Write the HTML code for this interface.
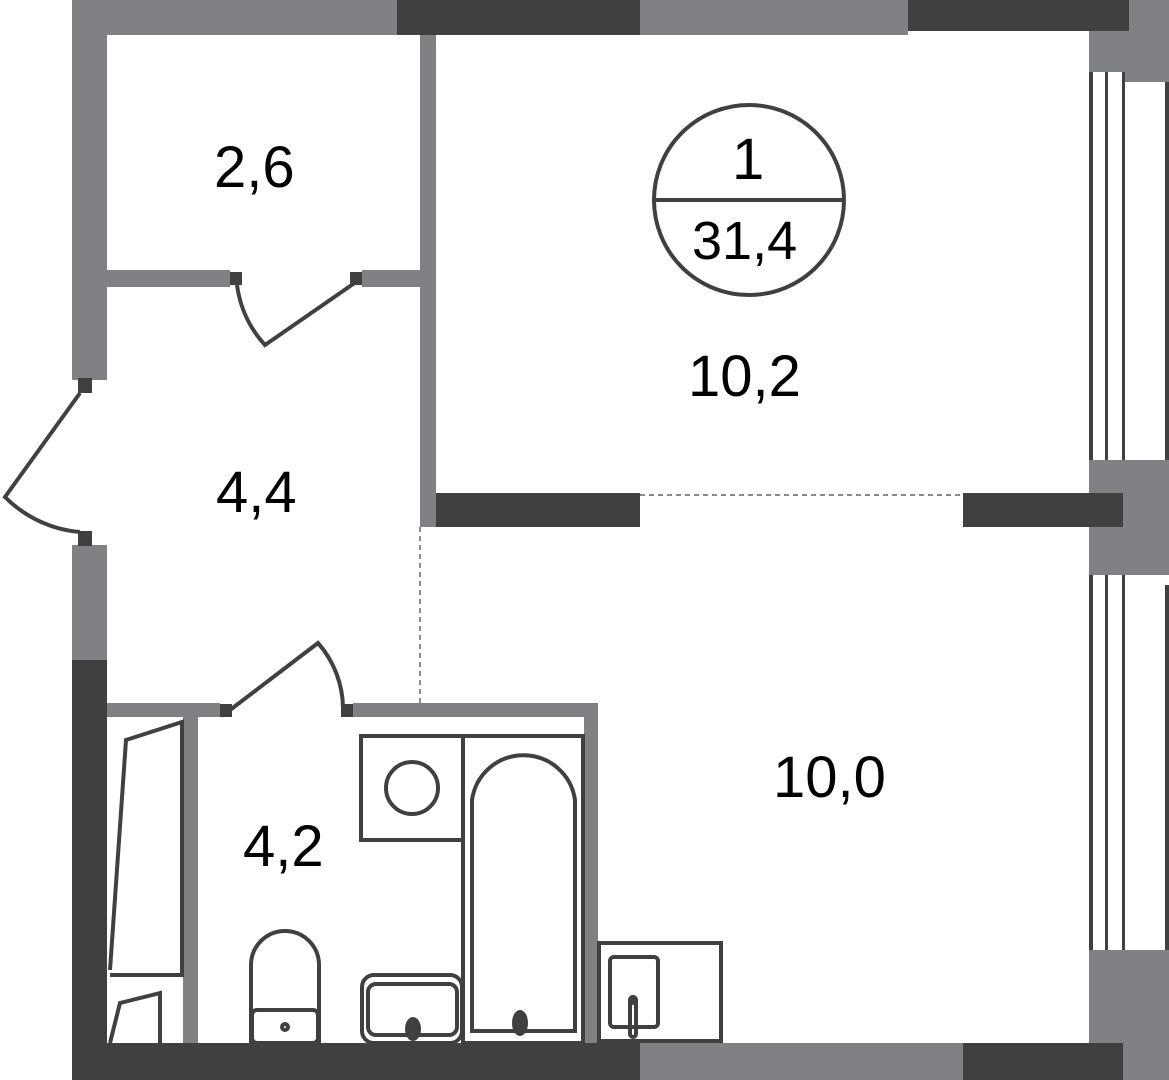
<!DOCTYPE html>
<html><head><style>body{margin:0;background:#fff}svg{display:block}text{font-family:"Liberation Sans",sans-serif;fill:#000}</style></head><body>
<svg width="1169" height="1080" viewBox="0 0 1169 1080" xmlns="http://www.w3.org/2000/svg">
<g fill="#808184">
<rect x="72" y="0" width="325" height="35"/><rect x="640" y="0" width="268" height="35"/>
<rect x="1089" y="31" width="80" height="41"/><rect x="1123" y="0" width="46" height="82"/>
<rect x="72" y="0" width="35" height="380"/><rect x="72" y="545" width="35" height="118"/>
<rect x="1089" y="460" width="80" height="115"/><rect x="1089" y="950" width="80" height="130"/>
<rect x="640" y="1043" width="323" height="37"/><rect x="1123" y="1043" width="46" height="37"/>
<rect x="420" y="35" width="16" height="492"/>
<rect x="107" y="270" width="123" height="17"/><rect x="362" y="270" width="58" height="17"/>
<rect x="107" y="703" width="113" height="14"/><rect x="353" y="703" width="245" height="14"/>
<rect x="584" y="703" width="14" height="340"/><rect x="183" y="717" width="15" height="326"/>
</g>
<g fill="#404040">
<rect x="397" y="0" width="243" height="35"/><rect x="908" y="0" width="221" height="31"/>
<rect x="72" y="660" width="35" height="420"/><rect x="72" y="1043" width="568" height="37"/>
<rect x="963" y="1043" width="160" height="37"/>
<rect x="436" y="493" width="204" height="34"/><rect x="963" y="493" width="160" height="34"/>
<rect x="78" y="378" width="14" height="15"/><rect x="78" y="531" width="14" height="15"/>
<rect x="230" y="272" width="12" height="13"/><rect x="350" y="272" width="12" height="13"/>
<rect x="220" y="704" width="12" height="13"/><rect x="341" y="704" width="12" height="13"/>
<rect x="1089" y="72" width="4" height="388"/><rect x="1105" y="72" width="3" height="388"/><rect x="1122" y="72" width="3" height="388"/><rect x="1165" y="82" width="4" height="378"/>
<rect x="1089" y="575" width="4" height="375"/><rect x="1105" y="575" width="3" height="375"/><rect x="1122" y="575" width="3" height="375"/><rect x="1165" y="585" width="4" height="365"/>
</g>
<g fill="none" stroke="#404040" stroke-width="4">
<path d="M80 393 L5 497 A120 120 0 0 0 80 532"/>
<path d="M237 285 A110 110 0 0 0 265 345 L356 282"/>
<path d="M230 710 L318 643 A100 100 0 0 1 343 708"/>
<path d="M110 970 L126 740 L182 722 L182 975 L110 975"/>
<path d="M110 1043 L120 1003 L160 993 L160 1043"/>
<rect x="361" y="736" width="102" height="104"/><circle cx="412" cy="788" r="26"/>
<rect x="463" y="736" width="120" height="307"/>
<rect x="362" y="975" width="100" height="68" rx="12"/><rect x="368" y="984" width="89" height="51" rx="8"/>
<path d="M251 1043 V965 A34 34 0 0 1 319 965 V1043"/><rect x="252" y="1010" width="66" height="33" rx="5"/><circle cx="285" cy="1027" r="3"/>
<rect x="599" y="943" width="122" height="98"/><rect x="610" y="957" width="48" height="70" rx="4"/>
<rect x="630" y="997" width="6" height="40" rx="3"/>
<circle cx="749" cy="200" r="95"/><line x1="654" y1="200" x2="844" y2="200"/>
</g>
<path d="M472 1031 V800 A52 52 0 0 1 575 800 V1031 Z" fill="#fff" stroke="#404040" stroke-width="4"/>
<g fill="#404040"><ellipse cx="413" cy="1029" rx="8" ry="12"/><ellipse cx="520" cy="1023" rx="8" ry="13"/><circle cx="633" cy="1000" r="5"/></g>
<g stroke="#404040" stroke-width="1.2" stroke-dasharray="5,4"><line x1="640" y1="495" x2="963" y2="495"/><line x1="420" y1="527" x2="420" y2="703"/></g>
<g font-size="58">
<text x="214" y="187">2,6</text><text x="216" y="512">4,4</text><text x="688" y="396">10,2</text>
<text x="243" y="866">4,2</text><text x="773" y="797">10,0</text>
<text x="732" y="179">1</text><text x="692" y="259" font-size="54">31,4</text></g>
</svg>
</body></html>
